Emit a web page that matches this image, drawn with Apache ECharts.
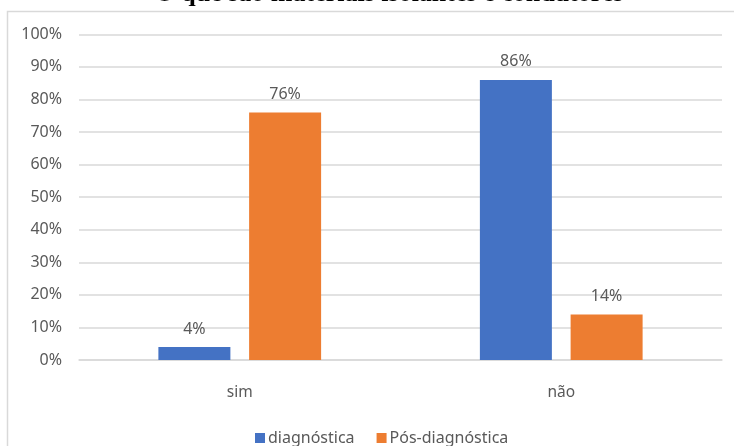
<!DOCTYPE html>
<html>
<head>
<meta charset="utf-8">
<script src="https://cdn.jsdelivr.net/npm/echarts@6/dist/echarts.min.js"></script>
<style>
  html, body { margin: 0; padding: 0; background: #ffffff; }
  #chart { width: 734px; height: 446px; }
</style>
</head>
<body>
<div id="chart"></div>
<script>
// Chart data
const titleText = 'O que são materiais isolantes e condutores';
const categories = ['sim', 'não'];
const seriesNames = ['diagnóstica', 'Pós-diagnóstica'];
const diagnostica = [4, 86];
const posDiagnostica = [76, 14];
const yTicks = [0, 10, 20, 30, 40, 50, 60, 70, 80, 90, 100];

const textColor = '#595959';
const fontFamily = '"Noto Sans", "DejaVu Sans", sans-serif';

const chart = echarts.init(document.getElementById('chart'), null, { renderer: 'canvas' });

const barLabel = {
  show: true,
  position: 'top',
  distance: 10,
  color: textColor,
  fontSize: 16,
  fontFamily: fontFamily,
  formatter: p => p.value + '%'
};

chart.setOption({
  backgroundColor: '#ffffff',
  animation: false,
  graphic: [
    {
      type: 'rect',
      silent: true,
      shape: { x: 7.5, y: 11.5, width: 740, height: 450 },
      style: { fill: 'none', stroke: '#d9d9d9', lineWidth: 1.5 }
    },
    {
      type: 'text',
      silent: true,
      x: 389,
      y: 7,
      style: {
        text: titleText,
        align: 'center',
        verticalAlign: 'bottom',
        fill: '#000000',
        font: 'bold 26px "Liberation Serif", "DejaVu Serif", serif'
      }
    }
  ],
  legend: {
    data: seriesNames,
    left: 250,
    top: 425,
    itemWidth: 10,
    itemHeight: 10,
    itemGap: 22,
    icon: 'rect',
    textStyle: { color: textColor, fontSize: 16, fontFamily: fontFamily, padding: [0, 0, 0, -2] }
  },
  grid: { left: 79, right: 12, top: 34.3, bottom: 86, containLabel: false },
  xAxis: {
    type: 'category',
    data: categories,
    axisLine: { show: true, lineStyle: { color: '#d9d9d9', width: 1.5 } },
    axisTick: { show: false },
    axisLabel: { color: textColor, fontSize: 15.5, fontFamily: fontFamily, margin: 25 }
  },
  yAxis: {
    type: 'value',
    min: yTicks[0],
    max: yTicks[yTicks.length - 1],
    interval: yTicks[1] - yTicks[0],
    axisLine: { show: false },
    axisTick: { show: false },
    splitLine: { lineStyle: { color: '#d9d9d9', width: 1.5 } },
    axisLabel: { color: textColor, fontSize: 16, fontFamily: fontFamily, margin: 17, formatter: '{value}%' }
  },
  series: [
    {
      name: seriesNames[0],
      type: 'bar',
      data: diagnostica,
      barWidth: 72,
      barGap: '26%',
      itemStyle: { color: '#4472c4' },
      label: barLabel
    },
    {
      name: seriesNames[1],
      type: 'bar',
      data: posDiagnostica,
      barWidth: 72,
      barGap: '26%',
      itemStyle: { color: '#ed7d31' },
      label: barLabel
    }
  ]
});
</script>
</body>
</html>
